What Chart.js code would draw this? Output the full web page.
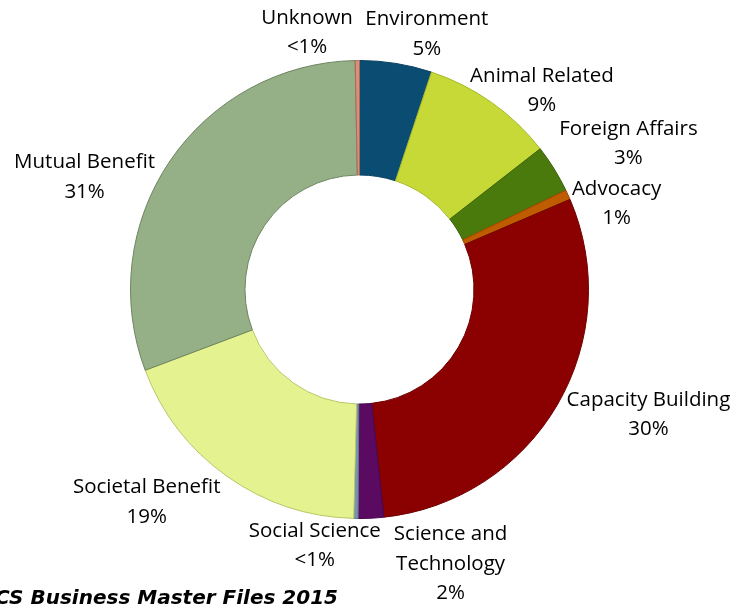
<!DOCTYPE html>
<html>
<head>
<meta charset="utf-8">
<script src="https://cdn.jsdelivr.net/npm/chart.js@4"></script>
<style>
    html, body { margin: 0; padding: 0; background: #fff; }
    #wrap { position: relative; width: 732px; height: 605px; overflow: hidden; }
    #source {
        position: absolute; right: calc(732px - 338px); top: 585px;
        font: italic bold 20px "DejaVu Sans", Verdana, sans-serif;
        white-space: nowrap; color: #000;
    }
</style>
</head>
<body>
<div id="wrap">
    <canvas id="subsectorChart" width="732" height="605"></canvas>
    <div id="source">NCCS Business Master Files 2015</div>
</div>
<script>
// Aandeel per subsector (procenten), met de klok mee vanaf boven
const categories = [
    ['Environment'],
    ['Animal Related'],
    ['Foreign Affairs'],
    ['Advocacy'],
    ['Capacity Building'],
    ['Science and', 'Technology'],
    ['Social Science'],
    ['Societal Benefit'],
    ['Mutual Benefit'],
    ['Unknown']
];
const shares = [5.1, 9.4, 3.4, 0.7, 29.8, 1.8, 0.3, 18.9, 30.5, 0.3];

const fills   = ['#0b4d72', '#c6d936', '#4a7a0b', '#c05c00', '#8b0000', '#5b0a62', '#7c93b0', '#e4f38f', '#95af86', '#d8907c'];
const borders = ['#0a3f5e', '#a6b82a', '#3b6208', '#9a4800', '#6e0000', '#48074e', '#60758f', '#b7c766', '#6d8561', '#a86a58'];

function pctLabel(v) {
    return v < 0.5 ? '<1%' : Math.round(v) + '%';
}

// Labels buiten de ring: hoek t.o.v. het midden van de sector (graden) en afstand buiten de rand (px)
const outerLabels = {
    id: 'outerLabels',
    afterDatasetsDraw(chart, args, opts) {
        const ctx = chart.ctx;
        const meta = chart.getDatasetMeta(0);
        ctx.save();
        ctx.font = opts.font;
        ctx.fillStyle = '#000';
        ctx.textAlign = 'center';
        ctx.textBaseline = 'middle';
        meta.data.forEach((arc, i) => {
            const p = arc.getProps(['x', 'y', 'startAngle', 'endAngle', 'outerRadius'], true);
            const mid = (p.startAngle + p.endAngle) / 2 + opts.angleShift[i] * Math.PI / 180;
            const r = p.outerRadius + opts.gap[i];
            const cx = p.x + r * Math.cos(mid);
            const cy = p.y + r * Math.sin(mid);
            const lines = [...categories[i], pctLabel(shares[i])];
            const top = cy - (lines.length - 1) * opts.lineHeight / 2;
            lines.forEach((t, k) => ctx.fillText(t, cx, top + k * opts.lineHeight));
        });
        ctx.restore();
    }
};

new Chart(document.getElementById('subsectorChart'), {
    type: 'doughnut',
    data: {
        labels: categories.map(c => c.join(' ')),
        datasets: [{
            data: shares,
            backgroundColor: fills,
            borderColor: borders,
            borderWidth: 1
        }]
    },
    options: {
        responsive: false,
        animation: false,
        cutout: '50%',
        layout: { padding: { left: 130, right: 143, top: 60, bottom: 86 } },
        plugins: {
            legend: { display: false },
            tooltip: { enabled: false },
            outerLabels: {
                font: '20.5px "Open Sans", sans-serif',
                lineHeight: 29.5,
                angleShift: [5.6, 7.3, 3.3, 6, -6.9, -15.5, 9, 9.6, -11.9, -11],
                gap: [35, 41, 77, 42, 86, 60, 31, 72, 68, 33]
            }
        }
    },
    plugins: [outerLabels]
});
</script>
</body>
</html>
